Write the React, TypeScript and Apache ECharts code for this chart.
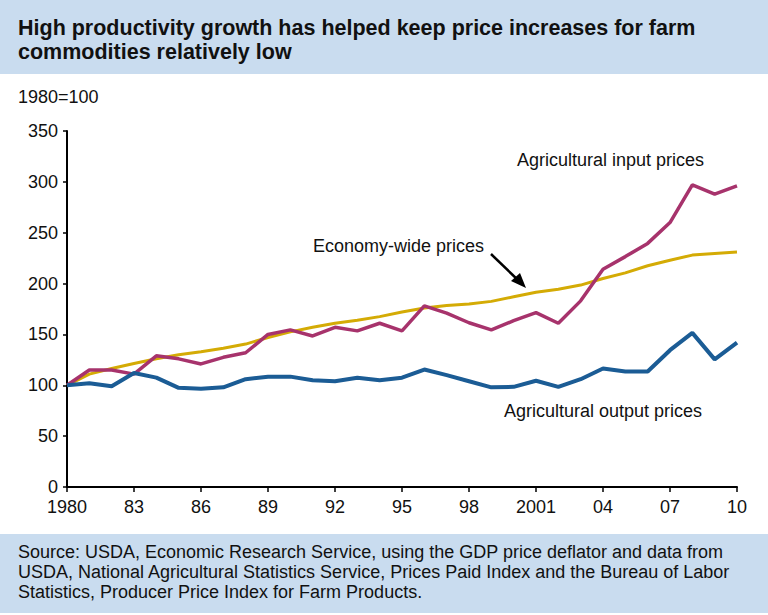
import React, { useEffect, useRef } from "react";
import * as echarts from "echarts";

const years: string[] = [];
for (let y = 1980; y <= 2010; y++) years.push(String(y));

const tickLabels: Record<string, string> = {
  "1980": "1980", "1983": "83", "1986": "86", "1989": "89", "1992": "92",
  "1995": "95", "1998": "98", "2001": "2001", "2004": "04", "2007": "07", "2010": "10",
};

const inputPrices = [
  100, 115, 115, 111, 129, 126, 121, 127.5, 132, 150, 154.5, 148.5, 157, 153.5, 161, 153.5,
  178, 171, 161.5, 154.5, 163.5, 171.5, 161, 183, 214, 226.5, 239.5, 260, 297, 288, 296,
];
const outputPrices = [
  100, 102, 99, 112, 107.5, 97.5, 96.5, 98, 106, 108.5, 108.5, 105, 104, 107.5, 105, 107.5,
  115.5, 110, 104, 98, 98.5, 104.5, 98.5, 106, 116.5, 113.5, 113.5, 134.5, 151.5, 125.5, 142,
];
const economyPrices = [
  100, 111, 116.5, 121.5, 126, 130, 133, 136.5, 140.5, 147, 152.5, 157, 161, 164, 167.5, 172,
  176, 178.5, 180, 182.5, 187, 191.5, 194.5, 198.5, 205, 210.5, 217.5, 223, 228, 229.5, 231,
];

const titleText = "High productivity growth has helped keep price increases for farm\ncommodities relatively low";
const unitText = "1980=100";
const sourceText =
  "Source: USDA, Economic Research Service, using the GDP price deflator and data from\nUSDA, National Agricultural Statistics Service, Prices Paid Index and the Bureau of Labor\nStatistics, Producer Price Index for Farm Products.";

const FONT = "'Liberation Sans', Arial, Helvetica, sans-serif";
const BAND = "#c9dcef";
const MAGENTA = "#a7336c";
const BLUE = "#1b5c95";
const GOLD = "#d4ab05";

export default function App() {
  const ref = useRef<HTMLDivElement>(null);
  useEffect(() => {
    document.body.style.margin = "0";
    if (!ref.current) return;
    const chart = echarts.init(ref.current, null, { renderer: "svg" });
    chart.setOption({
      animation: false,
      backgroundColor: "#ffffff",
      grid: { left: 67, right: 31, top: 131, bottom: 128, containLabel: false },
      xAxis: {
        type: "category",
        data: years,
        boundaryGap: false,
        axisLine: { lineStyle: { color: "#000", width: 2 } },
        axisTick: { interval: 2, length: 5, lineStyle: { color: "#000", width: 1.5 } },
        axisLabel: {
          interval: 2,
          margin: 11,
          color: "#111",
          fontSize: 18,
          fontFamily: FONT,
          formatter: (v: string) => tickLabels[v] ?? "",
        },
        splitLine: { show: false },
      },
      yAxis: {
        type: "value",
        min: 0,
        max: 350,
        interval: 50,
        axisLine: { show: true, lineStyle: { color: "#000", width: 2 } },
        axisTick: { show: true, length: 4, lineStyle: { color: "#000", width: 1.5 } },
        axisLabel: { margin: 9, color: "#111", fontSize: 18, fontFamily: FONT },
        splitLine: { show: false },
      },
      series: [
        {
          name: "Economy-wide prices",
          type: "line",
          data: economyPrices,
          symbol: "none",
          lineStyle: { color: GOLD, width: 3 },
          z: 2,
        },
        {
          name: "Agricultural input prices",
          type: "line",
          data: inputPrices,
          symbol: "none",
          lineStyle: { color: MAGENTA, width: 3.5 },
          z: 3,
        },
        {
          name: "Agricultural output prices",
          type: "line",
          data: outputPrices,
          symbol: "none",
          lineStyle: { color: BLUE, width: 4 },
          z: 4,
        },
      ],
      graphic: [
        { type: "rect", shape: { x: 0, y: 0, width: 768, height: 74 }, style: { fill: BAND }, z: 0 },
        { type: "rect", shape: { x: 0, y: 534, width: 768, height: 79 }, style: { fill: BAND }, z: 0 },
        {
          type: "text", x: 18, y: 16,
          style: { text: titleText, font: `bold 21.5px ${FONT}`, fill: "#111", lineHeight: 24 },
          z: 10,
        },
        {
          type: "text", x: 18, y: 88,
          style: { text: unitText, font: `18px ${FONT}`, fill: "#111" },
          z: 10,
        },
        {
          type: "text", x: 18, y: 542,
          style: { text: sourceText, font: `18px ${FONT}`, fill: "#111", lineHeight: 20 },
          z: 10,
        },
        {
          type: "text", x: 517, y: 151,
          style: { text: "Agricultural input prices", font: `18px ${FONT}`, fill: "#111" },
          z: 10,
        },
        {
          type: "text", x: 313, y: 237,
          style: { text: "Economy-wide prices", font: `18px ${FONT}`, fill: "#111" },
          z: 10,
        },
        {
          type: "text", x: 504, y: 402,
          style: { text: "Agricultural output prices", font: `18px ${FONT}`, fill: "#111" },
          z: 10,
        },
        {
          type: "line",
          shape: { x1: 491, y1: 254, x2: 519, y2: 281 },
          style: { stroke: "#000", lineWidth: 2.5 },
          z: 10,
        },
        {
          type: "polygon",
          shape: { points: [[526, 288], [511, 281], [520, 273]] },
          style: { fill: "#000" },
          z: 10,
        },
      ],
    });
    return () => chart.dispose();
  }, []);
  return <div ref={ref} style={{ width: 768, height: 615 }} />;
}
